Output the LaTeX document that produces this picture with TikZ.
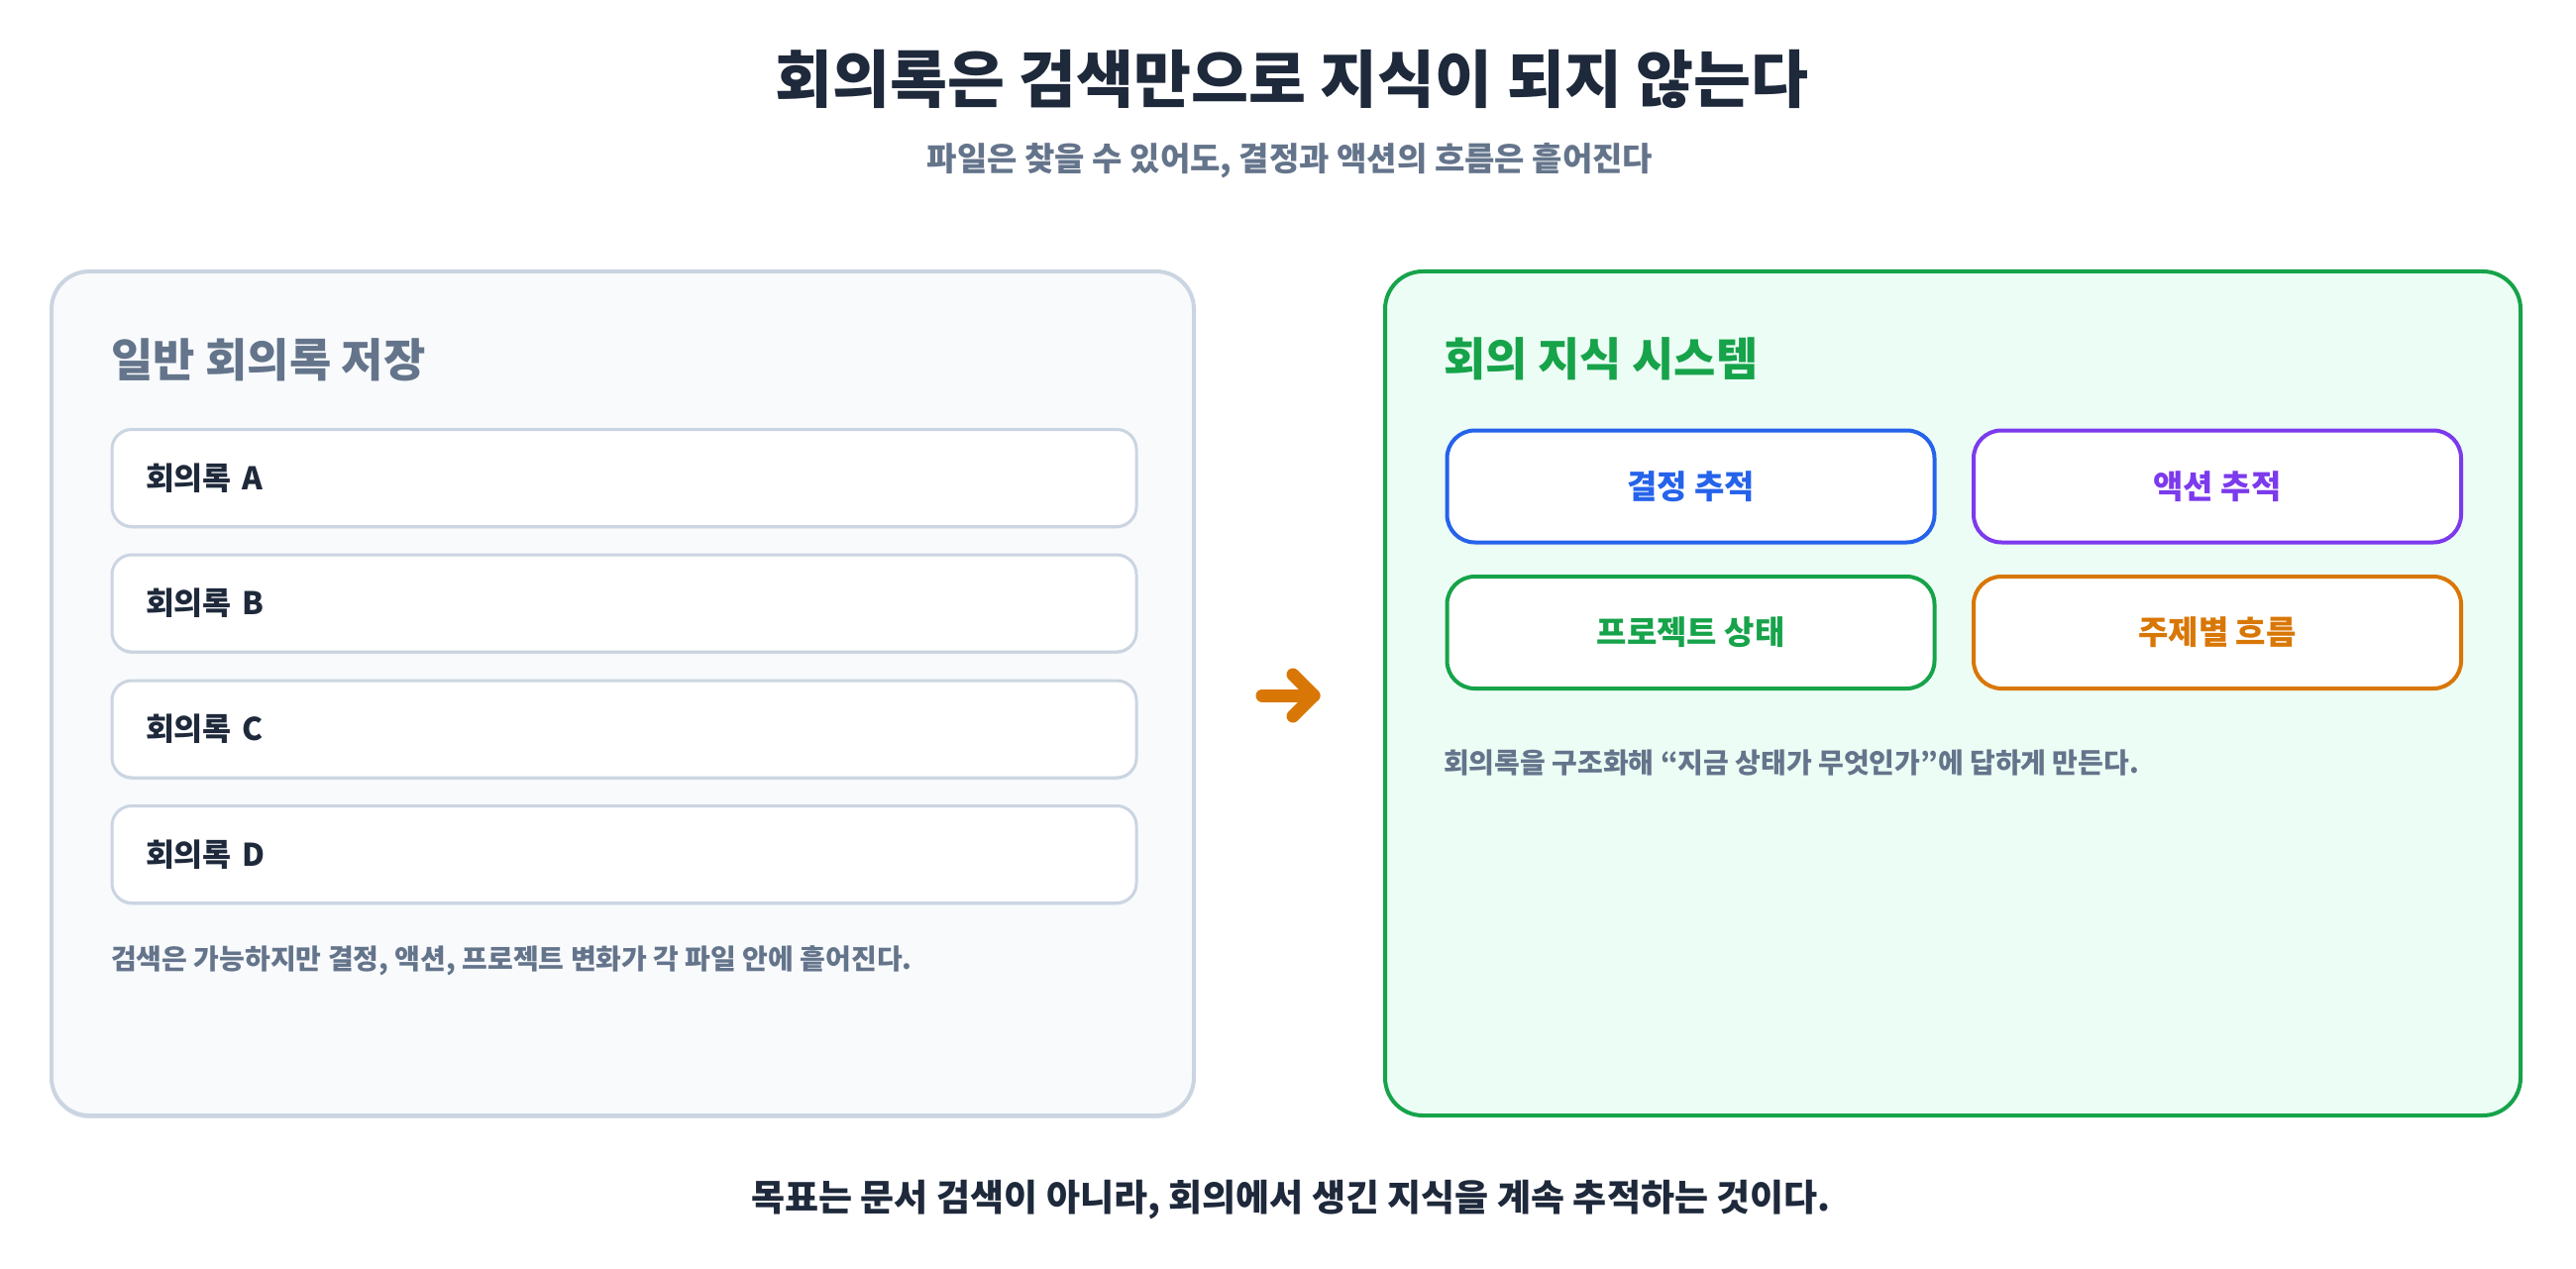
\documentclass[tikz,border=0pt]{standalone}
\usepackage{fontspec}
\setmainfont{Noto Sans CJK KR}
\usepackage{tikz}
\usetikzlibrary{arrows.meta, calc, shadows}
\definecolor{slateInk}{HTML}{1E293B}
\definecolor{slateGray}{HTML}{64748B}
\definecolor{slateLine}{HTML}{CBD5E1}
\definecolor{slatePaper}{HTML}{F8FAFC}
\definecolor{mintPaper}{HTML}{ECFDF5}
\definecolor{kGreen}{HTML}{16A34A}
\definecolor{kBlue}{HTML}{2563EB}
\definecolor{kPurple}{HTML}{7C3AED}
\definecolor{kOrange}{HTML}{D97706}
\newcommand{\fs}[1]{\fontsize{#1}{#1}\selectfont\bfseries}

\begin{document}
\begin{tikzpicture}[x=1pt, y=-1pt,
	panel/.style={rounded corners=38pt, line width=4pt, minimum width=#1, minimum height=852pt, inner sep=0pt},
	memo/.style={draw=slateLine, fill=white, line width=3pt, rounded corners=20pt, minimum height=98pt, text width=966pt, inner xsep=34pt, inner ysep=0pt, align=left, text=slateInk, font=\fs{31.5}, drop shadow={shadow xshift=0pt, shadow yshift=-2pt, fill=slateLine, opacity=0.6}},
	track/.style={draw=#1, text=#1, fill=white, line width=4pt, rounded corners=28pt, minimum width=492pt, minimum height=113pt, inner sep=0pt, font=\fs{33}},
	note/.style={anchor=west, inner sep=0pt, text=slateGray, font=\fs{28}}]

	\fill[white] (0,0) rectangle (2600,1281);
	\useasboundingbox (0,0) rectangle (2600,1281);

	\node[text=slateInk, font=\fs{63}] (title) at (1304,80) {회의록은 검색만으로 지식이 되지 않는다};
	\node[text=slateGray, font=\fs{33}] (subtitle) at (1302,162) {파일은 찾을 수 있어도, 결정과 액션의 흐름은 흩어진다};

	% left panel
	\node[panel=1153pt, draw=slateLine, fill=slatePaper, drop shadow={shadow xshift=0pt, shadow yshift=-3pt, fill=slateLine, opacity=0.7}] (plain) at (628.5,700) {};
	\node[anchor=west, inner sep=0pt, text=slateGray, font=\fs{46}] (plainTitle) at (112,363) {일반 회의록 저장};
	\node[memo] (memoA) at (630,482.5) {회의록 A};
	\node[memo] (memoB) at (630,609) {회의록 B};
	\node[memo] (memoC) at (630,736) {회의록 C};
	\node[memo] (memoD) at (630,862.5) {회의록 D};
	\node[note] (plainNote) at (112,970) {검색은 가능하지만 결정, 액션, 프로젝트 변화가 각 파일 안에 흩어진다.};

	% arrow
	\coordinate (arrTail) at (1274,702);
	\coordinate (arrTip) at (1326,702);
	\draw[kOrange, line width=13pt, line cap=round, line join=round] (arrTail) -- (arrTip);
	\draw[kOrange, line width=13pt, line cap=round, line join=round] ($ (arrTip)+(-21,-21) $) -- (arrTip) -- ($ (arrTip)+(-21,21) $);

	% right panel
	\node[panel=1146pt, draw=kGreen, fill=mintPaper] (system) at (1971,700) {};
	\node[anchor=west, inner sep=0pt, text=kGreen, font=\fs{46}] (systemTitle) at (1457,362) {회의 지식 시스템};
	\node[track=kBlue] (decision) at (1706.5,491) {결정 추적};
	\node[track=kPurple] (action) at (2238,491) {액션 추적};
	\node[track=kGreen] (project) at (1706.5,638.5) {프로젝트 상태};
	\node[track=kOrange] (topic) at (2238,638.5) {주제별 흐름};
	\node[note] (systemNote) at (1457,770) {회의록을 구조화해 “지금 상태가 무엇인가”에 답하게 만든다.};

	\node[text=slateInk, font=\fs{37}] (goal) at (1303,1211) {목표는 문서 검색이 아니라, 회의에서 생긴 지식을 계속 추적하는 것이다.};

\end{tikzpicture}
\end{document}
